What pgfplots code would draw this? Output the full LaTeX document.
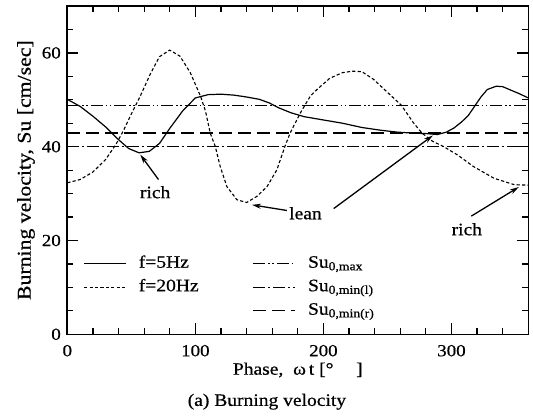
\documentclass[border=0pt]{standalone}
\usepackage{fontspec}
\setmainfont{Liberation Serif}[FakeStretch=1.12, FakeBold=0.6]
\usepackage{pgfplots}
\usepackage{pgfplotstable}
\pgfplotsset{compat=1.18}
\usetikzlibrary{arrows.meta}

% Burning velocity over one period, f = 5 Hz
\pgfplotstableread{
x y
0 50.1
10 48.6
20 46.5
30 44.2
40 41.5
48 39.6
56 38.7
64 39.0
72 40.7
80 43.9
90 47.6
100 50.4
110 51.1
120 51.2
130 51.0
140 50.6
150 50.1
158 49.3
165 48.3
175 47.2
185 46.4
200 45.7
215 45.0
230 44.1
245 43.5
258 43.1
270 42.9
280 42.8
289 42.6
296 43.1
302 44.0
308 45.3
313 46.6
318 48.6
323 50.6
328 52.2
335 52.9
340 52.8
346 52.1
353 51.3
360 50.4
}\fivehz

% Burning velocity over one period, f = 20 Hz
\pgfplotstableread{
x y
0 32.3
10 33.0
20 34.6
30 37.3
38 40.5
44 43.5
50 47.0
57 50.8
65 55.6
72 59.2
80 60.6
88 59.3
96 55.8
104 50.8
108 47.5
111.6 42.9
115.5 40.1
119.4 35.8
124.6 31.5
132.4 28.7
140 28.1
148 29.4
156 31.5
163.7 35.1
170 40.1
174 42.9
182 47.2
189.8 50.8
195 52.2
205 54.6
215 55.8
223 56.1
230 56.0
239 54.4
250 51.6
261 48.8
270 45.2
277 42.9
285 41.2
294 40.0
305 38.2
317 35.8
333 33.3
349 31.9
360 31.8
}\twentyhz

\tikzset{
  sumax/.style={line width=1.4bp, dash pattern=on 12bp off 3bp on 1.5bp off 2.5bp on 1.5bp off 3bp},
  suminl/.style={line width=1.4bp, dash pattern=on 12bp off 3bp on 2bp off 3bp},
  suminr/.style={line width=1.4bp, dash pattern=on 13bp off 6bp},
  f5/.style={line width=1.2bp},
  f20/.style={line width=1.1bp, dash pattern=on 3.2bp off 2.2bp},
  ann/.style={line width=1.3bp, -{Stealth[length=9bp,width=5bp]}},
}

\begin{document}
\begin{tikzpicture}[font=\fontsize{17.5}{20}\selectfont]
\path[use as bounding box] (-67.3bp,-81.7bp) rectangle (465.7bp,334.3bp);
\begin{axis}[
  at={(0,0)}, anchor=south west,
  scale only axis, width=461bp, height=328.3bp,
  clip mode=individual,
  xmin=0, xmax=360, ymin=0, ymax=70,
  xtick={0,100,200,300}, ytick={0,20,40,60},
  minor xtick={20,40,60,80,120,140,160,180,220,240,260,280,320,340},
  minor ytick={5,10,15,25,30,35,45,50,55,65},
  tick align=inside,
  major tick length=11bp, minor tick length=6bp,
  axis line style={line width=1.6bp},
  every tick/.style={line width=1.2bp, black},
  /pgf/number format/assume math mode=true,
  tick label style={font=\fontsize{17}{19}\selectfont},
  xticklabel style={anchor=center, yshift=-16.4bp},
  yticklabel style={anchor=east, xshift=-3bp},
  xlabel={Phase,\ \ ω\,t [°\hspace{1.3em}]},
  xlabel style={at={(axis description cs:0.5,-0.1087)}, anchor=center},
  ylabel={Burning velocity, Su [cm/sec]},
  ylabel style={at={(axis description cs:-0.0896,0.5)}, anchor=center, font=\fontsize{19.5}{22}\selectfont},
  legend cell align=left,
  legend columns=2,
  legend style={draw=none, fill=none, inner sep=0pt,
    at={(axis description cs:0.035,0.24)}, anchor=north west,
    nodes={inner sep=0pt, text height=12bp, text depth=4bp},
    row sep=7.5bp,
    /tikz/every odd column/.append style={column sep=12bp},
    /tikz/every even column/.append style={column sep=54bp}},
  legend image code/.code={\draw[#1] (0bp,0bp) -- (42bp,0bp);},
]
\addplot[f5, forget plot] table {\fivehz};
\addplot[f20, forget plot] table {\twentyhz};
\addplot[sumax, forget plot] coordinates {(0,48.8) (360,48.8)};
\addplot[suminl, forget plot] coordinates {(0,40.1) (360,40.1)};
\addplot[suminr, forget plot] coordinates {(0,42.9) (360,42.9)};

\addlegendimage{f5}\addlegendentry{f=5Hz}
\addlegendimage{sumax}\addlegendentry{Su\textsubscript{0,max}}
\addlegendimage{f20}\addlegendentry{f=20Hz}
\addlegendimage{suminl}\addlegendentry{Su\textsubscript{0,min(l)}}
\addlegendimage{empty legend}\addlegendentry{}
\addlegendimage{suminr}\addlegendentry{Su\textsubscript{0,min(r)}}

\draw[ann] (axis cs:71.2,33.0) -- (axis cs:57,38.3);
\node at (axis cs:68.6,30.3) {rich};
\draw[ann] (axis cs:171.5,26.4) -- (axis cs:144.2,27.6);
\node at (axis cs:186,25.8) {lean};
\draw[ann] (axis cs:208,26.8) -- (axis cs:285.5,42.4);
\draw[ann] (axis cs:315.5,25.2) -- (axis cs:352.6,31.4);
\node at (axis cs:312,22.4) {rich};

\node at (axis description cs:0.433,-0.2053) {(a) Burning velocity};
\end{axis}
\end{tikzpicture}
\end{document}
